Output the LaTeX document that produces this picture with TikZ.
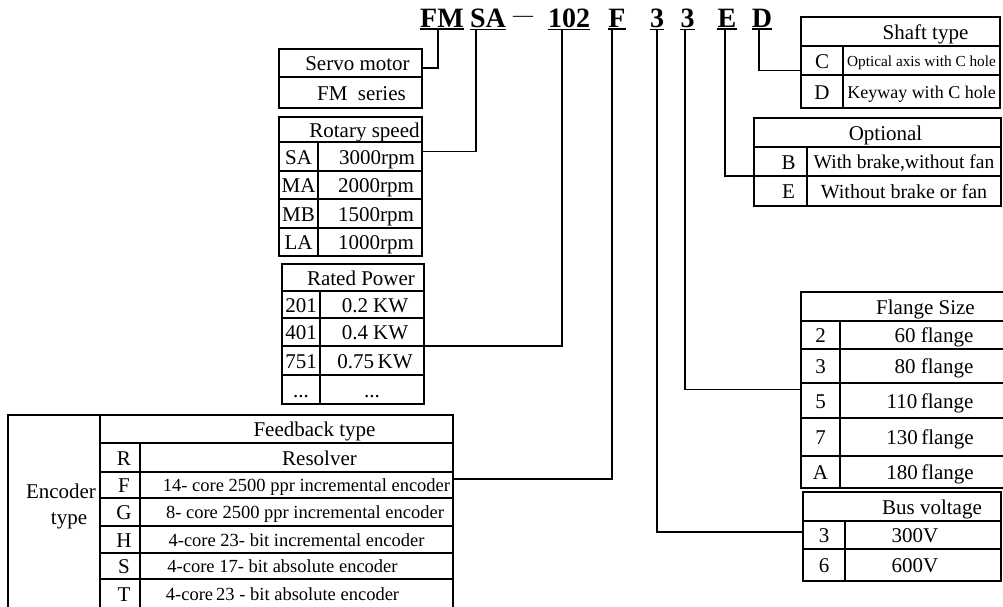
\documentclass[tikz,border=0pt]{standalone}
\usepackage{fontspec}
\setmainfont{Liberation Serif}

\tikzset{
  cell/.style={draw, line width=1.6pt, inner sep=0pt, outer sep=0pt, anchor=north west,
    font=\fontsize{21}{21}\selectfont, text height=16pt, text depth=1pt},
  small/.style={font=\fontsize{18.5}{18.5}\selectfont, text height=14pt, text depth=1pt},
  code/.style={font=\bfseries\fontsize{28}{28}\selectfont, inner xsep=0pt, inner ysep=2pt, anchor=base},
  wire/.style={line width=1.6pt},
}

\begin{document}
\begin{tikzpicture}[x=1pt,y=-1pt]
  \useasboundingbox (0,0) rectangle (1003,606);
  \clip (0,0) rectangle (1003,606);

  % model code
  \node[code] (fm) at (442,27) {FM};
  \node[code] (sa) at (488,27) {SA};
  \node[font=\fontsize{20}{20}\selectfont, anchor=base, inner sep=0pt] (dash) at (523,21) {—};
  \node[code] (kw) at (569,27) {102};
  \node[code] (fb) at (617,27) {F};
  \node[code] (volt) at (657,27) {3};
  \node[code] (flange) at (687.5,27) {3};
  \node[code] (opt) at (727,27) {E};
  \node[code] (shaft) at (762,27) {D};
  \draw[wire] (fm.south west) -- (fm.south east);
  \draw[wire] (sa.south west) -- (sa.south east);
  \draw[wire] (kw.south west) -- (kw.south east);
  \draw[wire] (fb.south west) -- (fb.south east);
  \draw[wire] (volt.south west) -- (volt.south east);
  \draw[wire] (flange.south west) -- (flange.south east);
  \draw[wire] (opt.south west) -- (opt.south east);
  \draw[wire] (shaft.south west) -- (shaft.south east);

  % servo motor
  \node[cell, minimum width=143pt, minimum height=28pt] (servo) at (279,49) {\hspace*{14pt}Servo motor};
  \node[cell, minimum width=143pt, minimum height=31pt] (series) at (279,77) {\hspace*{22pt}FM\ \ series};

  % rotary speed
  \node[cell, minimum width=143pt, minimum height=25pt] (rot) at (279,117) {\hspace*{28pt}Rotary speed};
  \node[cell, minimum width=39pt, minimum height=29pt] (rotSA) at (279,142) {SA};
  \node[cell, minimum width=104pt, minimum height=29pt] (rotSAv) at (318,142) {\hspace*{14pt}3000rpm};
  \node[cell, minimum width=39pt, minimum height=28pt] (rotMA) at (279,171) {MA};
  \node[cell, minimum width=104pt, minimum height=28pt] (rotMAv) at (318,171) {\hspace*{12pt}2000rpm};
  \node[cell, minimum width=39pt, minimum height=29pt] (rotMB) at (279,199) {MB};
  \node[cell, minimum width=104pt, minimum height=29pt] (rotMBv) at (318,199) {\hspace*{12pt}1500rpm};
  \node[cell, minimum width=39pt, minimum height=28pt] (rotLA) at (279,228) {LA};
  \node[cell, minimum width=104pt, minimum height=28pt] (rotLAv) at (318,228) {\hspace*{12pt}1000rpm};

  % rated power
  \node[cell, minimum width=142pt, minimum height=27pt] (pow) at (282,264) {\hspace*{16pt}Rated Power};
  \node[cell, minimum width=38pt, minimum height=27pt] (pow201) at (282,291) {201};
  \node[cell, minimum width=104pt, minimum height=27pt] (pow201v) at (320,291) {\hspace*{6pt}0.2 KW};
  \node[cell, minimum width=38pt, minimum height=28pt] (pow401) at (282,318) {401};
  \node[cell, minimum width=104pt, minimum height=28pt] (pow401v) at (320,318) {\hspace*{6pt}0.4 KW};
  \node[cell, minimum width=38pt, minimum height=29pt] (pow751) at (282,346) {751};
  \node[cell, minimum width=104pt, minimum height=29pt] (pow751v) at (320,346) {\hspace*{6pt}0.75\,KW};
  \node[cell, minimum width=38pt, minimum height=29pt] (powx) at (282,375) {...};
  \node[cell, minimum width=104pt, minimum height=29pt] (powxv) at (320,375) {...};

  % feedback type
  \node[cell, minimum width=92pt, minimum height=193pt] (enc) at (8,415) {};
  \node[font=\fontsize{21}{26}\selectfont, align=center, inner sep=0pt] (enctype) at (61,506) {Encoder\\\hspace*{16pt}type};
  \node[cell, minimum width=353pt, minimum height=28pt] (feed) at (100,415) {\hspace*{76pt}Feedback type};
  \node[cell, minimum width=40pt, minimum height=29pt] (feedR) at (100,443) {\hspace*{8pt}R};
  \node[cell, minimum width=313pt, minimum height=29pt] (feedRv) at (140,443) {\hspace*{46pt}Resolver};
  \node[cell, minimum width=40pt, minimum height=26pt] (feedF) at (100,472) {\hspace*{8pt}F};
  \node[cell, small, minimum width=313pt, minimum height=26pt] (feedFv) at (140,472) {\hspace*{20pt}14- core 2500 ppr incremental encoder};
  \node[cell, minimum width=40pt, minimum height=28pt] (feedG) at (100,498) {\hspace*{8pt}G};
  \node[cell, small, minimum width=313pt, minimum height=28pt] (feedGv) at (140,498) {\hspace*{17pt}8- core 2500 ppr incremental encoder};
  \node[cell, minimum width=40pt, minimum height=27pt] (feedH) at (100,526) {\hspace*{8pt}H};
  \node[cell, small, minimum width=313pt, minimum height=27pt] (feedHv) at (140,526) {4-core 23- bit incremental encoder};
  \node[cell, minimum width=40pt, minimum height=26pt] (feedS) at (100,553) {\hspace*{8pt}S};
  \node[cell, small, minimum width=313pt, minimum height=26pt] (feedSv) at (140,553) {4-core 17- bit absolute encoder\hspace*{28pt}};
  \node[cell, minimum width=40pt, minimum height=29pt] (feedT) at (100,579) {\hspace*{8pt}T};
  \node[cell, small, minimum width=313pt, minimum height=29pt] (feedTv) at (140,579) {4-core\,23 - bit absolute encoder\hspace*{28pt}};

  % shaft type
  \node[cell, minimum width=199pt, minimum height=29pt] (shf) at (801,17) {\hspace*{50pt}Shaft type};
  \node[cell, minimum width=42pt, minimum height=29pt] (shfC) at (801,46) {C};
  \node[cell, font=\fontsize{15.3}{15.3}\selectfont, text height=12pt, minimum width=157pt, minimum height=29pt] (shfCv) at (843,46) {Optical axis with C hole};
  \node[cell, minimum width=42pt, minimum height=33pt] (shfD) at (801,75) {D};
  \node[cell, font=\fontsize{18}{18}\selectfont, text height=14pt, minimum width=157pt, minimum height=33pt] (shfDv) at (843,75) {Keyway with C hole};

  % optional
  \node[cell, minimum width=247pt, minimum height=29pt] (opts) at (754,118) {\hspace*{16pt}Optional};
  \node[cell, minimum width=53pt, minimum height=29pt] (optB) at (754,147) {\hspace*{16pt}B};
  \node[cell, font=\fontsize{19.5}{19.5}\selectfont, text height=15pt, minimum width=194pt, minimum height=29pt] (optBv) at (807,147) {With brake,without fan};
  \node[cell, minimum width=53pt, minimum height=30pt] (optE) at (754,176) {\hspace*{16pt}E};
  \node[cell, font=\fontsize{20}{20}\selectfont, text height=15pt, minimum width=194pt, minimum height=30pt] (optEv) at (807,176) {Without brake or fan};

  % flange size
  \node[cell, minimum width=209pt, minimum height=29pt] (fls) at (801,292) {\hspace*{40pt}Flange Size};
  \node[cell, minimum width=39pt, minimum height=28pt] (fl2) at (801,321) {2};
  \node[cell, minimum width=170pt, minimum height=28pt] (fl2v) at (840,321) {\hspace*{18pt}60 flange};
  \node[cell, minimum width=39pt, minimum height=34pt] (fl3) at (801,349) {3};
  \node[cell, minimum width=170pt, minimum height=34pt] (fl3v) at (840,349) {\hspace*{18pt}80 flange};
  \node[cell, minimum width=39pt, minimum height=35pt] (fl5) at (801,383) {5};
  \node[cell, minimum width=170pt, minimum height=35pt] (fl5v) at (840,383) {\hspace*{10pt}110\,flange};
  \node[cell, minimum width=39pt, minimum height=38pt] (fl7) at (801,418) {7};
  \node[cell, minimum width=170pt, minimum height=38pt] (fl7v) at (840,418) {\hspace*{10pt}130\,flange};
  \node[cell, minimum width=39pt, minimum height=32pt] (flA) at (801,456) {A};
  \node[cell, minimum width=170pt, minimum height=32pt] (flAv) at (840,456) {\hspace*{10pt}180\,flange};

  % bus voltage
  \node[cell, minimum width=198pt, minimum height=29pt] (bus) at (803,492) {\hspace*{60pt}Bus voltage};
  \node[cell, minimum width=42pt, minimum height=28pt] (bus3) at (803,521) {3};
  \node[cell, minimum width=156pt, minimum height=28pt] (bus3v) at (845,521) {300V\hspace*{16pt}};
  \node[cell, minimum width=42pt, minimum height=32pt] (bus6) at (803,549) {6};
  \node[cell, minimum width=156pt, minimum height=32pt] (bus6v) at (845,549) {600V\hspace*{16pt}};

  % connectors
  \draw[wire] ([xshift=-4pt]fm.south) |- ([yshift=-5pt]servo.east);
  \draw[wire] ([xshift=-12pt]sa.south) |- ([yshift=5pt]rotSAv.east);
  \draw[wire] ([xshift=-7pt]kw.south) |- (pow401v.south east);
  \draw[wire] ([xshift=-5pt]fb.south) |- ([yshift=6pt]feedFv.east);
  \draw[wire] (volt.south) |- ([yshift=3pt]bus3.west);
  \draw[wire] ([xshift=-2.5pt]flange.south) |- ([yshift=11pt]fl5.west);
  \draw[wire] ([xshift=-2pt]opt.south) |- (optB.south west);
  \draw[wire] ([xshift=-3pt]shaft.south) |- ([yshift=-10pt]shfC.west);
\end{tikzpicture}
\end{document}
